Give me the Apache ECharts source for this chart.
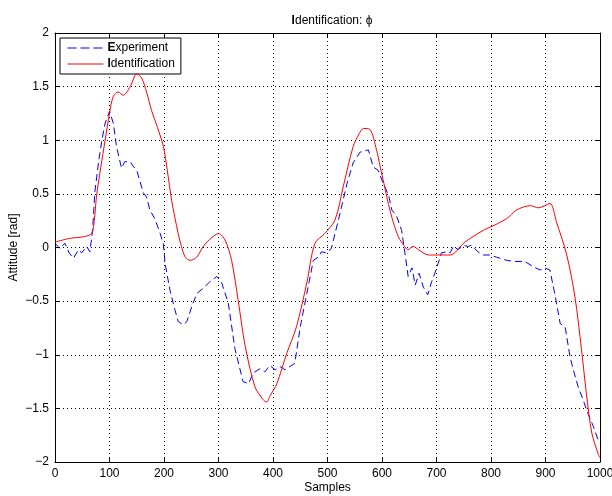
<!DOCTYPE html>
<html>
<head>
<meta charset="utf-8">
<script src="https://cdn.jsdelivr.net/npm/echarts@6/dist/echarts.min.js"></script>
<style>
  html, body { margin: 0; padding: 0; background: #fff; }
  #chart { width: 612px; height: 496px; }
</style>
</head>
<body>
<div id="chart"></div>
<script>
// Measured attitude (experiment) sampled along the run
const expX = [0, 9, 18, 26, 34, 43, 49, 58, 64, 69, 73, 80, 86, 92, 100, 107, 113, 122, 128, 138, 143, 150, 162, 168, 174, 183, 193, 199, 202, 211, 220, 226, 235, 242, 251, 260, 272, 284, 297, 306, 318, 330, 345, 355, 364, 376, 385, 394, 404, 413, 422, 431, 440, 450, 462, 474, 483, 489, 498, 507, 523, 536, 547, 560, 575, 584, 593, 602, 612, 618, 627, 636, 642, 648, 655, 661, 668, 676, 684, 691, 697, 703, 709, 719, 725, 731, 740, 749, 758, 764, 776, 786, 798, 810, 829, 844, 862, 878, 890, 899, 908, 917, 927, 936, 945, 951, 960, 969, 978, 988, 997, 1000];
const expY = [0.04, -0.01, 0.04, -0.05, -0.10, -0.02, -0.05, 0.01, -0.04, 0.16, 0.51, 0.80, 1.00, 1.16, 1.27, 1.16, 0.94, 0.74, 0.80, 0.80, 0.76, 0.72, 0.51, 0.47, 0.35, 0.27, 0.13, 0.03, -0.15, -0.40, -0.58, -0.69, -0.72, -0.69, -0.55, -0.43, -0.38, -0.32, -0.27, -0.33, -0.52, -0.94, -1.25, -1.27, -1.17, -1.13, -1.16, -1.10, -1.14, -1.11, -1.14, -1.11, -1.08, -0.74, -0.43, -0.12, -0.09, -0.04, -0.05, -0.01, 0.32, 0.60, 0.79, 0.89, 0.91, 0.75, 0.72, 0.60, 0.49, 0.35, 0.29, 0.16, -0.05, -0.27, -0.19, -0.35, -0.24, -0.37, -0.44, -0.32, -0.24, -0.15, -0.05, -0.04, -0.05, 0.01, -0.02, 0.02, 0.01, 0.02, -0.04, -0.07, -0.07, -0.09, -0.12, -0.13, -0.13, -0.18, -0.21, -0.19, -0.21, -0.43, -0.71, -0.74, -1.02, -1.14, -1.30, -1.42, -1.55, -1.67, -1.80, -1.82];

// Identified model response
const idX = [0, 27, 52, 67, 72, 76, 84, 92, 100, 107, 116, 125, 138, 150, 159, 168, 177, 188, 199, 206, 214, 226, 232, 239, 248, 260, 272, 287, 300, 312, 324, 336, 349, 367, 382, 388, 395, 407, 425, 443, 462, 477, 495, 514, 529, 547, 558, 566, 578, 590, 596, 606, 612, 621, 630, 636, 648, 657, 667, 685, 703, 725, 752, 786, 807, 829, 847, 872, 887, 908, 920, 939, 954, 966, 975, 985, 997, 1000];
const idY = [0.05, 0.085, 0.10, 0.13, 0.25, 0.47, 0.75, 1.00, 1.25, 1.41, 1.45, 1.42, 1.50, 1.62, 1.58, 1.45, 1.28, 1.12, 0.94, 0.72, 0.44, 0.13, 0.01, -0.09, -0.12, -0.09, 0.01, 0.09, 0.13, 0.07, -0.12, -0.49, -0.92, -1.30, -1.42, -1.44, -1.38, -1.27, -0.99, -0.74, -0.33, 0.04, 0.13, 0.26, 0.57, 0.94, 1.06, 1.11, 1.10, 0.91, 0.77, 0.54, 0.40, 0.23, 0.10, 0.05, -0.02, 0.01, -0.02, -0.07, -0.07, -0.07, 0.05, 0.16, 0.21, 0.27, 0.35, 0.39, 0.37, 0.41, 0.24, -0.07, -0.46, -0.95, -1.36, -1.73, -1.93, -1.96];

const seriesNames = ['Experiment', 'Identification'];
const titleText = 'Identification: \u03D5';
const xName = 'Samples';
const yName = 'Attitude [rad]';

const FONT = '"Liberation Sans", Arial, sans-serif';
const pair = (xs, ys) => xs.map((x, i) => [x, ys[i]]);
const boldFirst = s => '{b|' + s.charAt(0) + '}' + s.slice(1);
const minusFmt = v => String(v).replace('-', '\u2212');

const chart = echarts.init(document.getElementById('chart'), null, { renderer: 'canvas' });

const tickInside = { show: true, inside: true, length: 5, lineStyle: { color: '#000', width: 1 } };
const axisLine = { show: true, onZero: false, lineStyle: { color: '#000', width: 1 } };
const gridLines = { show: true, lineStyle: { color: '#000', width: 1, type: [1, 3] } };
const labelStyle = { color: '#000', fontFamily: FONT, fontSize: 12 };
const richBold = { b: { fontWeight: 'bold', fontFamily: FONT, fontSize: 12, color: '#000' } };

chart.setOption({
  animation: false,
  backgroundColor: '#fff',
  title: {
    text: boldFirst(titleText),
    left: 327, top: 10, textAlign: 'center',
    textStyle: { color: '#000', fontFamily: FONT, fontSize: 12, fontWeight: 'normal', rich: richBold }
  },
  legend: {
    orient: 'vertical',
    left: 60, top: 38,
    padding: [4, 6, 4, 7],
    itemGap: 4,
    itemWidth: 36,
    itemHeight: 10,
    borderColor: '#000', borderWidth: 1,
    backgroundColor: '#fff',
    data: [
      { name: seriesNames[0], lineStyle: { width: 1, type: [9, 4] } },
      { name: seriesNames[1], lineStyle: { width: 1 } }
    ],
    itemStyle: { opacity: 0 },
    formatter: name => boldFirst(name),
    textStyle: { color: '#000', fontFamily: FONT, fontSize: 12, padding: [0, 0, 0, -1], rich: richBold }
  },
  grid: { left: 55, right: 12, top: 33, bottom: 34, containLabel: false, outerBoundsMode: 'none' },
  xAxis: [{
    type: 'value', min: 0, max: 1000, interval: 100,
    name: xName, nameLocation: 'middle', nameGap: 20, nameMoveOverlap: false,
    nameTextStyle: labelStyle,
    axisLine: axisLine, axisTick: tickInside, splitLine: gridLines,
    axisLabel: Object.assign({ margin: 6, formatter: v => String(v) }, labelStyle)
  }, {
    type: 'value', min: 0, max: 1000, interval: 100, position: 'top',
    axisLine: axisLine, axisTick: tickInside, splitLine: { show: false },
    axisLabel: { show: false }
  }],
  yAxis: [{
    type: 'value', min: -2, max: 2, interval: 0.5,
    name: yName, nameLocation: 'middle', nameGap: 35, nameMoveOverlap: false,
    nameTextStyle: labelStyle,
    axisLine: axisLine, axisTick: tickInside, splitLine: gridLines,
    axisLabel: Object.assign({ margin: 6, formatter: minusFmt }, labelStyle)
  }, {
    type: 'value', min: -2, max: 2, interval: 0.5, position: 'right',
    axisLine: axisLine, axisTick: tickInside, splitLine: { show: false },
    axisLabel: { show: false }
  }],
  series: [{
    name: seriesNames[0],
    type: 'line',
    data: pair(expX, expY),
    symbol: 'none',
    smooth: false,
    lineStyle: { color: '#0000ff', width: 1, type: [7, 4] },
    itemStyle: { color: '#0000ff' },
    z: 3
  }, {
    name: seriesNames[1],
    type: 'line',
    data: pair(idX, idY),
    symbol: 'none',
    smooth: 0.3,
    lineStyle: { color: '#ff0000', width: 1 },
    itemStyle: { color: '#ff0000' },
    z: 4
  }]
});
</script>
</body>
</html>
